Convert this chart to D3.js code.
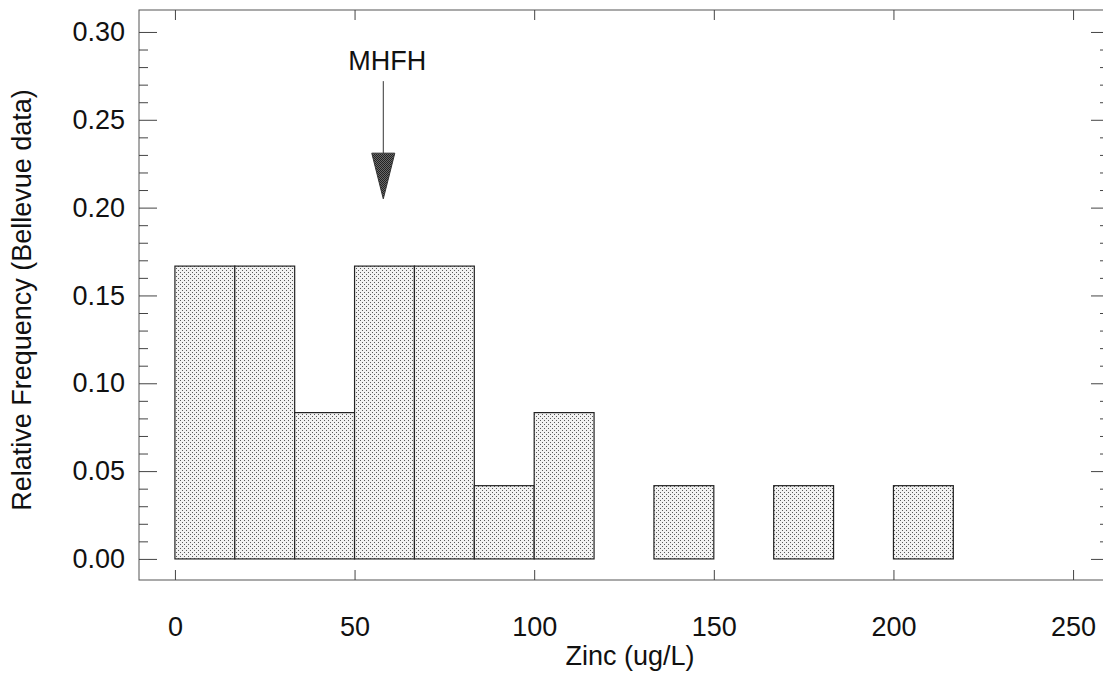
<!DOCTYPE html>
<html>
<head>
<meta charset="utf-8">
<script src="https://cdn.jsdelivr.net/npm/d3@7"></script>
<style>
  html, body { margin: 0; padding: 0; background: #fff; }
  svg { display: block; }
  text { font-family: "Liberation Sans", Arial, Helvetica, sans-serif; fill: #111; }
</style>
</head>
<body>
<svg id="chart" width="1103" height="677"></svg>
<script>
// ---- data ----
const binLeft  = [0, 16.667, 33.333, 50, 66.667, 83.333, 100, 133.333, 166.667, 200];
const binRight = [16.667, 33.333, 50, 66.667, 83.333, 100, 116.667, 150, 183.333, 216.667];
const freq     = [0.1667, 0.1667, 0.0833, 0.1667, 0.1667, 0.0417, 0.0833, 0.0417, 0.0417, 0.0417];
const xTicks = [0, 50, 100, 150, 200, 250];
const yTicks = [0.00, 0.05, 0.10, 0.15, 0.20, 0.25, 0.30];
const yMinorTicks = d3.range(0, 31).map(i => i / 100).filter(v => Math.round(v * 100) % 5 !== 0);
const xLabel = "Zinc (ug/L)";
const yLabel = "Relative Frequency (Bellevue data)";
const annLabel = "MHFH";
const annX = 58;        // zinc value marked by arrow
const annTip = 0.205;   // arrow tip (frequency units)
const annTail = 0.272;  // arrow tail
const annHeadTop = 0.231;
const annText = 0.2785;

// ---- layout ----
const svg = d3.select("#chart");
const pLeft = 139, pRight = 1109, pTop = 10, pBottom = 580;
const x = d3.scaleLinear().domain([-10, 260]).range([pLeft, pRight]);
const y = d3.scaleLinear().domain([-0.012, 0.3125]).range([pBottom, pTop]);
const fontSize = 27;

// stipple pattern
const defs = svg.append("defs");
const pat = defs.append("pattern").attr("id", "stipple")
  .attr("patternUnits", "userSpaceOnUse").attr("width", 4).attr("height", 4);
pat.append("rect").attr("width", 4).attr("height", 4).attr("fill", "#f2f2f2");
pat.append("rect").attr("x", 0).attr("y", 0).attr("width", 1).attr("height", 1).attr("fill", "#5a5a5a");
pat.append("rect").attr("x", 2).attr("y", 2).attr("width", 1).attr("height", 1).attr("fill", "#5a5a5a");

const patD = defs.append("pattern").attr("id", "stippleDark")
  .attr("patternUnits", "userSpaceOnUse").attr("width", 2).attr("height", 2);
patD.append("rect").attr("width", 2).attr("height", 2).attr("fill", "#6a6a6a");
patD.append("rect").attr("width", 1).attr("height", 1).attr("fill", "#222");
patD.append("rect").attr("x", 1).attr("y", 1).attr("width", 1).attr("height", 1).attr("fill", "#222");

// bars
const bars = freq.map((f, i) => ({ x0: binLeft[i], x1: binRight[i], f }));
svg.append("g").selectAll("rect").data(bars).join("rect")
  .attr("x", d => x(d.x0))
  .attr("y", d => y(d.f))
  .attr("width", d => x(d.x1) - x(d.x0))
  .attr("height", d => y(0) - y(d.f))
  .attr("fill", "url(#stipple)")
  .attr("stroke", "#222")
  .attr("stroke-width", 1.2);

// frame
svg.append("rect").attr("x", pLeft).attr("y", pTop)
  .attr("width", pRight - pLeft).attr("height", pBottom - pTop)
  .attr("fill", "none").attr("stroke", "#555").attr("stroke-width", 1);

function styleAxis(g) {
  g.select(".domain").remove();
  g.selectAll(".tick line").attr("stroke", "#444").attr("stroke-width", 1);
  g.selectAll("text").attr("font-size", fontSize).attr("fill", "#111")
    .attr("font-family", '"Liberation Sans", Arial, sans-serif');
}

// bottom axis
svg.append("g").attr("transform", `translate(0,${pBottom})`)
  .call(d3.axisBottom(x).tickValues(xTicks).tickSize(-10).tickPadding(37).tickFormat(d3.format("d")))
  .call(styleAxis);
// top axis
svg.append("g").attr("transform", `translate(0,${pTop})`)
  .call(d3.axisTop(x).tickValues(xTicks).tickSize(-10).tickFormat(""))
  .call(styleAxis);
// left axis
svg.append("g").attr("transform", `translate(${pLeft},0)`)
  .call(d3.axisLeft(y).tickValues(yTicks).tickSize(-18).tickPadding(14).tickFormat(d3.format(".2f")))
  .call(styleAxis);
svg.append("g").attr("transform", `translate(${pLeft},0)`)
  .call(d3.axisLeft(y).tickValues(yMinorTicks).tickSize(-9).tickFormat(""))
  .call(styleAxis);
// right axis
svg.append("g").attr("transform", `translate(${pRight},0)`)
  .call(d3.axisRight(y).tickValues(yTicks).tickSize(-18).tickFormat(""))
  .call(styleAxis);
svg.append("g").attr("transform", `translate(${pRight},0)`)
  .call(d3.axisRight(y).tickValues(yMinorTicks).tickSize(-9).tickFormat(""))
  .call(styleAxis);

// axis labels
svg.append("text").attr("x", 630).attr("y", 665)
  .attr("text-anchor", "middle").attr("font-size", fontSize).text(xLabel);
svg.append("text").attr("transform", "translate(31,300) rotate(-90)")
  .attr("text-anchor", "middle").attr("font-size", fontSize).text(yLabel);

// annotation arrow
const ax = x(annX);
svg.append("line").attr("x1", ax).attr("x2", ax)
  .attr("y1", y(annTail)).attr("y2", y(annHeadTop))
  .attr("stroke", "#333").attr("stroke-width", 1);
svg.append("path")
  .attr("d", `M${ax - 11.5},${y(annHeadTop)} L${ax + 11.5},${y(annHeadTop)} L${ax},${y(annTip)} Z`)
  .attr("fill", "url(#stippleDark)").attr("stroke", "#333").attr("stroke-width", 1);
svg.append("text").attr("x", ax + 4).attr("y", y(annText))
  .attr("text-anchor", "middle").attr("font-size", fontSize).text(annLabel);
</script>
</body>
</html>
